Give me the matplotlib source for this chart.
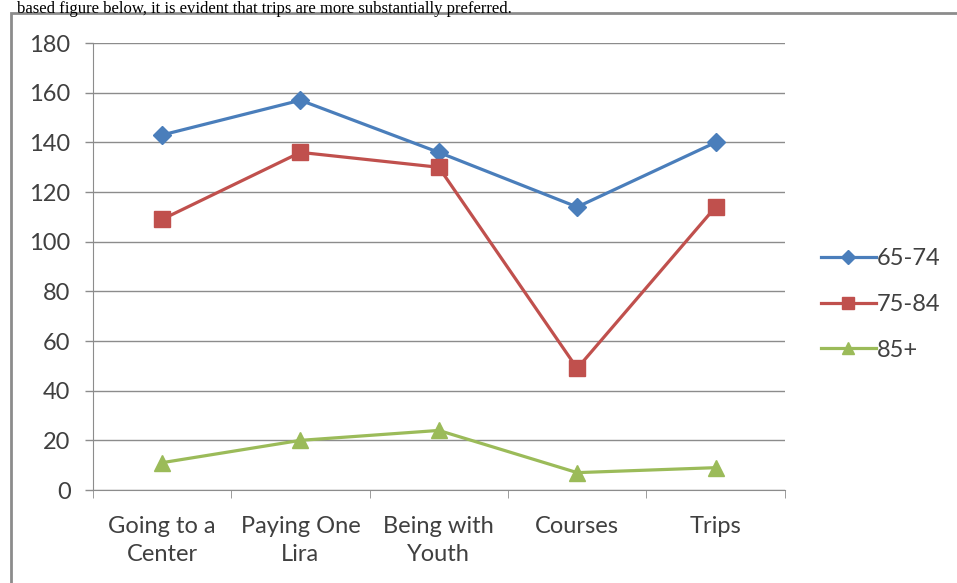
import matplotlib.pyplot as plt
from matplotlib.patches import Rectangle

# data
categories = ["Going to a\nCenter", "Paying One\nLira", "Being with\nYouth", "Courses", "Trips"]
age_65_74 = [143, 157, 136, 114, 140]
age_75_84 = [109, 136, 130, 49, 114]
age_85_plus = [11, 20, 24, 7, 9]
y_ticks = [0, 20, 40, 60, 80, 100, 120, 140, 160, 180]

plt.rcParams['font.family'] = ['Lato', 'DejaVu Sans']

fig = plt.figure(figsize=(9.57, 5.83), dpi=100)

# caption line above the chart frame
fig.text(0.018, 0.999, "based figure below, it is evident that trips are more substantially preferred.",
         family='Liberation Serif', fontsize=12, va='top', ha='left', color='black')

# outer chart frame
fig.patches.append(Rectangle((0.012, -0.02), 1.0, 0.998, transform=fig.transFigure,
                             fill=False, edgecolor='#8c8c8c', linewidth=2.0))

ax = fig.add_axes([0.097, 0.1595, 0.723, 0.7665])
x = list(range(len(categories)))

ax.plot(x, age_65_74, color='#4A7EBB', linewidth=2.3, marker='D', markersize=9, label='65-74')
ax.plot(x, age_75_84, color='#C0504D', linewidth=2.3, marker='s', markersize=11, label='75-84')
ax.plot(x, age_85_plus, color='#9BBB59', linewidth=2.3, marker='^', markersize=11, label='85+')

ax.set_xlim(-0.5, len(categories) - 0.5)
ax.set_ylim(0, 180)
ax.set_yticks(y_ticks)
ax.tick_params(axis='y', labelsize=17, colors='#8c8c8c', labelcolor='#404040', length=6, width=1, pad=10)
ax.set_xticks(x)
ax.set_xticklabels(categories, fontsize=17, color='#404040', linespacing=1.4)
ax.tick_params(axis='x', length=0, pad=19)
ax.set_xticks([i - 0.5 for i in range(len(categories) + 1)], minor=True)
ax.tick_params(axis='x', which='minor', length=6, color='#8c8c8c')

ax.grid(axis='y', color='#8c8c8c', linewidth=1)
ax.set_axisbelow(True)
for side in ['top', 'right']:
    ax.spines[side].set_visible(False)
ax.spines['left'].set_color('#8c8c8c')
ax.spines['bottom'].set_color('#8c8c8c')

fig.legend(loc='center left', bbox_to_anchor=(0.836, 0.478), frameon=False, fontsize=17,
           handlelength=2.3, handletextpad=0.05, labelspacing=1.05, labelcolor='#404040', markerscale=0.8)

plt.savefig('out.png', dpi=100)
